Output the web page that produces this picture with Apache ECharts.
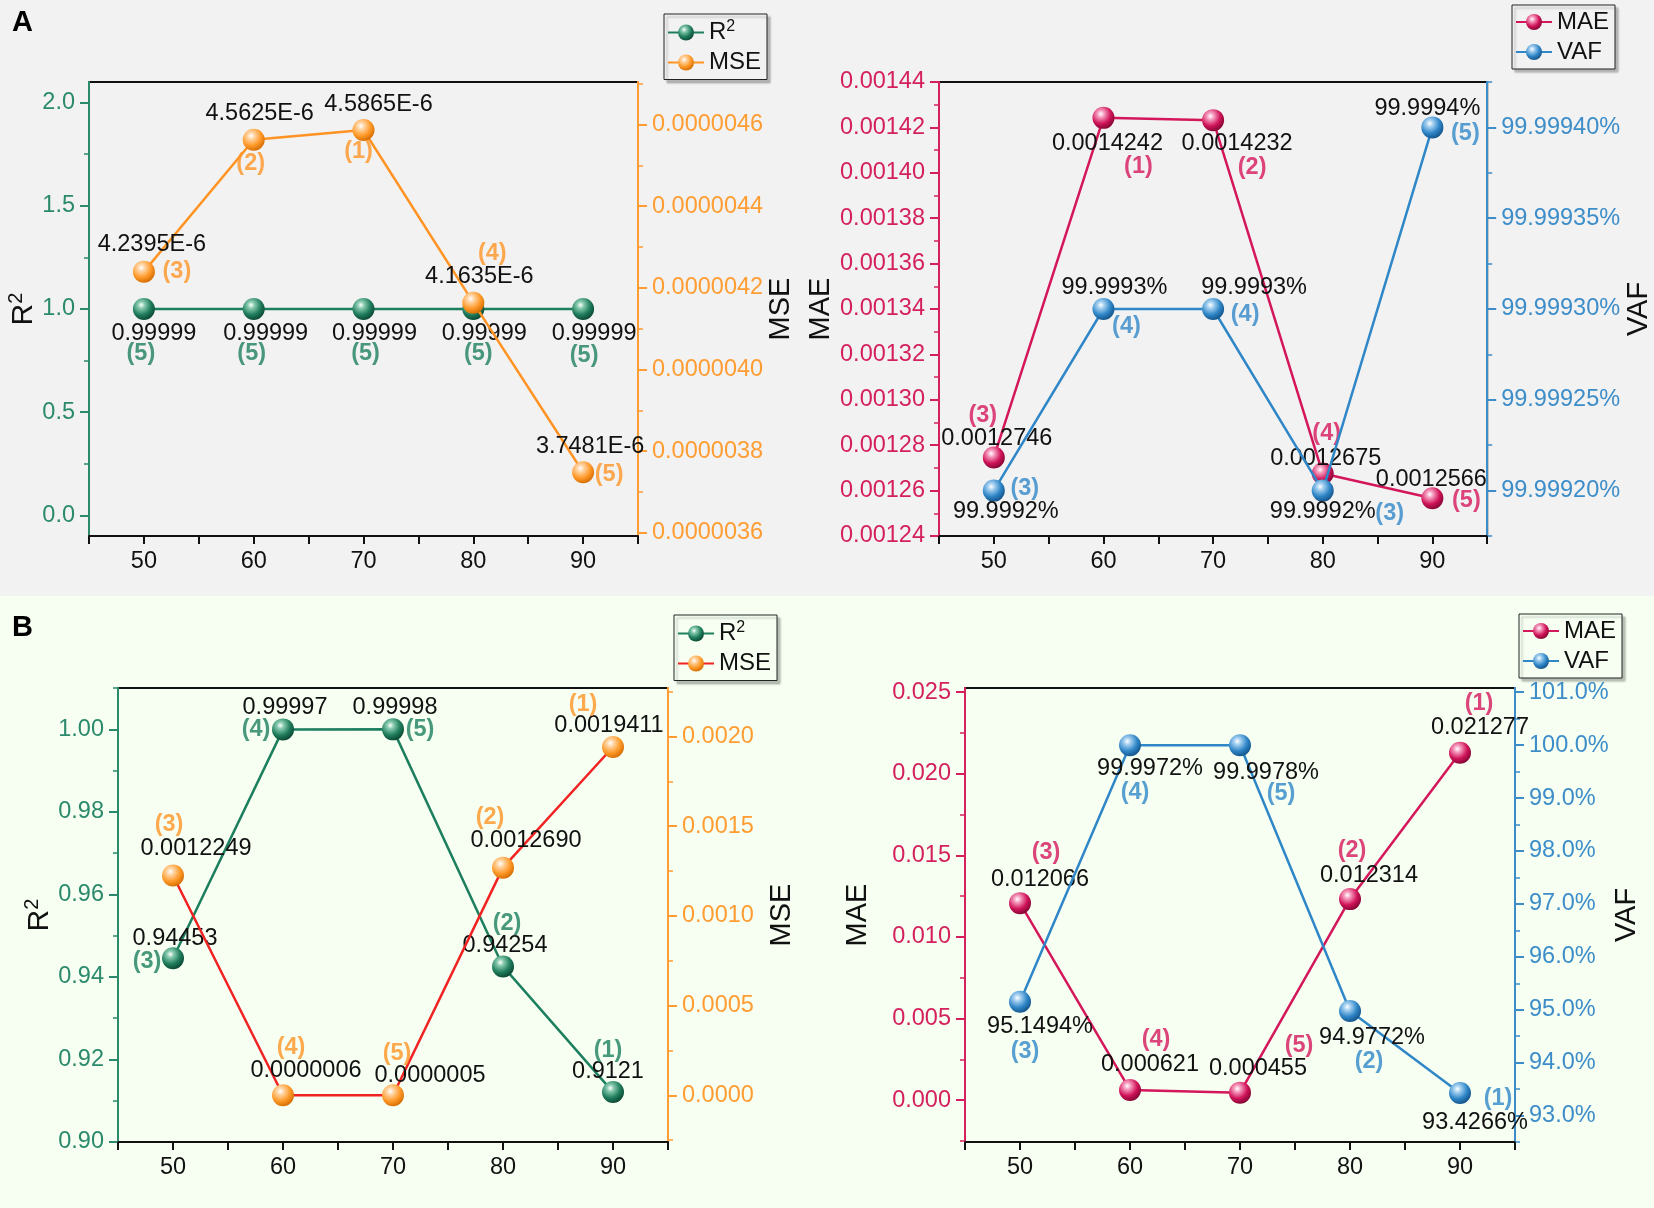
<!DOCTYPE html>
<html><head><meta charset="utf-8">
<script src="https://cdn.jsdelivr.net/npm/echarts@6/dist/echarts.min.js"></script>
<style>
html,body{margin:0;padding:0;}
#c{width:1654px;height:1208px;background:linear-gradient(to bottom,#f2f2f2 0,#f2f2f2 596px,#f6fff2 596px,#f6fff2 100%);}
</style></head><body><div id="c"></div>
<script>
// ---------------- data ----------------
const xValues = [50, 60, 70, 80, 90];

// Panel A
const aR2 = [0.99999, 0.99999, 0.99999, 0.99999, 0.99999];
const aR2Rank = [5, 5, 5, 5, 5];
const aMSE = [4.2395e-6, 4.5625e-6, 4.5865e-6, 4.1635e-6, 3.7481e-6];
const aMSERank = [3, 2, 1, 4, 5];
const aMAE = [0.0012746, 0.0014242, 0.0014232, 0.0012675, 0.0012566];
const aMAERank = [3, 1, 2, 4, 5];
const aVAF = [99.9992, 99.9993, 99.9993, 99.9992, 99.9994];
const aVAFRank = [3, 4, 4, 3, 5];

// Panel B
const bR2 = [0.94453, 0.99997, 0.99998, 0.94254, 0.9121];
const bR2Rank = [3, 4, 5, 2, 1];
const bMSE = [0.0012249, 0.0000006, 0.0000005, 0.0012690, 0.0019411];
const bMSERank = [3, 4, 5, 2, 1];
const bMAE = [0.012066, 0.000621, 0.000455, 0.012314, 0.021277];
const bMAERank = [3, 4, 5, 2, 1];
const bVAF = [95.1494, 99.9972, 99.9978, 94.9772, 93.4266];
const bVAFRank = [3, 4, 5, 2, 1];

// tick values (major / minor)
const aR2Ticks = [0, 0.5, 1.0, 1.5, 2.0];
const aR2Minor = [0.25, 0.75, 1.25, 1.75];
const aMSETicks = [3.6e-6, 3.8e-6, 4.0e-6, 4.2e-6, 4.4e-6, 4.6e-6];
const aMSEMinor = [3.7e-6, 3.9e-6, 4.1e-6, 4.3e-6, 4.5e-6, 4.7e-6];
const aMAETicks = [0.00124, 0.00126, 0.00128, 0.00130, 0.00132, 0.00134, 0.00136, 0.00138, 0.00140, 0.00142, 0.00144];
const aMAEMinor = [0.00125, 0.00127, 0.00129, 0.00131, 0.00133, 0.00135, 0.00137, 0.00139, 0.00141, 0.00143];
const aVAFTicks = [99.9992, 99.99925, 99.9993, 99.99935, 99.9994];
const aVAFMinor = [99.999175, 99.999225, 99.999275, 99.999325, 99.999375, 99.999425];
const bR2Ticks = [0.90, 0.92, 0.94, 0.96, 0.98, 1.00];
const bR2Minor = [0.91, 0.93, 0.95, 0.97, 0.99, 1.01];
const bMSETicks = [0, 0.0005, 0.0010, 0.0015, 0.0020];
const bMSEMinor = [-0.00025, 0.00025, 0.00075, 0.00125, 0.00175, 0.00225];
const bMAETicks = [0, 0.005, 0.010, 0.015, 0.020, 0.025];
const bMAEMinor = [-0.0025, 0.0025, 0.0075, 0.0125, 0.0175, 0.0225];
const bVAFTicks = [93, 94, 95, 96, 97, 98, 99, 100, 101];
const bVAFMinor = [92.5, 93.5, 94.5, 95.5, 96.5, 97.5, 98.5, 99.5, 100.5];

// ---------------- style / layout ----------------
const FONT = '"Liberation Sans", Arial, sans-serif';
const FS = 23.5;
const GREEN = '#1d7f5e', ORANGE = '#ff9424', RED = '#f02222', CRIMSON = '#d4175b', BLUE = '#2f87c8';
const GREEN_AX = '#2b8a6b', ORANGE_AX = '#ff9d33', CRIMSON_AX = '#d4215e', BLUE_AX = '#3d8dc9';

function ball(base, light, dark) {
  return {type: 'radial', x: 0.38, y: 0.32, r: 0.72, colorStops: [
    {offset: 0, color: '#ffffff'}, {offset: 0.22, color: light},
    {offset: 0.62, color: base}, {offset: 1, color: dark}]};
}
const BALL_G = ball('#1f7d5c', '#86c9ae', '#0b4431');
const BALL_O = ball('#ff9a2a', '#ffd4a3', '#d36a00');
const BALL_C = ball('#d0145a', '#f59bbd', '#7e0530');
const BALL_B = ball('#2f86c7', '#a3cff0', '#125086');

const grids = [
  {left: 89, top: 82, width: 549, height: 454},
  {left: 939, top: 82, width: 550, height: 454},
  {left: 118, top: 688, width: 550, height: 454},
  {left: 965, top: 688, width: 550, height: 454}
];

// label offsets [dx, dy] in px relative to marker centre
const OFF = {
  aR2v: [[10,25],[12,25],[11,25],[11,25],[11,25]],
  aR2r: [[-3,45],[-2,45],[2,45],[5,45],[1,47]],
  aMSEv: [[8,-27],[6,-26],[15,-25],[6,-26],[7,-26]],
  aMSEr: [[33,0],[-3,24],[-5,22],[19,-49],[26,2]],
  aMAEv: [[3,-19],[4,26],[24,23],[3,-15],[-1,-19]],
  aMAEr: [[-11,-42],[35,49],[39,47],[4,-40],[34,2]],
  aVAFv: [[12,21],[11,-21],[41,-21],[0,21],[-5,-19]],
  aVAFr: [[31,-2],[23,18],[32,6],[67,23],[33,6]],
  bR2v: [[2,-20],[2,-22],[2,-22],[2,-21],[-5,-21]],
  bR2r: [[-26,3],[-27,0],[27,0],[4,-43],[-5,-42]],
  bMSEv: [[23,-27],[23,-25],[37,-20],[23,-27],[-4,-22]],
  bMSEr: [[-4,-51],[8,-48],[4,-42],[-13,-50],[-30,-43]],
  bMAEv: [[20,-24],[20,-25],[18,-24],[19,-24],[20,-25]],
  bMAEr: [[26,-51],[26,-50],[59,-47],[2,-49],[19,-49]],
  bVAFv: [[20,25],[20,23],[26,27],[22,27],[15,30]],
  bVAFr: [[5,50],[5,47],[41,48],[19,51],[38,6]]
};

const series = [];
function pair(o) {
  series.push({
    type: 'line', name: o.name, xAxisIndex: o.g, yAxisIndex: o.y,
    data: o.values.map((v, i) => ({value: [xValues[i], v], label: {offset: o.vOff[i]}})),
    symbol: 'circle', symbolSize: 22, showSymbol: true,
    lineStyle: {color: o.line, width: 2.5},
    itemStyle: {color: o.ball},
    label: {show: true, position: 'inside', formatter: p => o.fmt(p.value[1]),
      color: '#111', fontSize: FS, fontFamily: FONT},
    z: o.z, silent: true, animation: false
  });
  series.push({
    type: 'scatter', name: o.name + '_rank', xAxisIndex: o.g, yAxisIndex: o.y,
    data: o.values.map((v, i) => ({value: [xValues[i], v], label: {offset: o.rOff[i]}})),
    symbolSize: 1, itemStyle: {color: 'rgba(0,0,0,0)'},
    label: {show: true, position: 'inside', formatter: p => '(' + o.ranks[p.dataIndex] + ')',
      color: o.rankColor, fontSize: FS, fontWeight: 'bold', fontFamily: FONT},
    z: o.z + 1, silent: true, animation: false
  });
}

const fmtExp = v => v.toExponential(4).toUpperCase();
pair({name: 'aR2', g: 0, y: 0, values: aR2, ranks: aR2Rank, fmt: v => String(v), line: GREEN, ball: BALL_G, vOff: OFF.aR2v, rOff: OFF.aR2r, rankColor: GREEN, z: 3});
pair({name: 'aMSE', g: 0, y: 2, values: aMSE, ranks: aMSERank, fmt: fmtExp, line: ORANGE, ball: BALL_O, vOff: OFF.aMSEv, rOff: OFF.aMSEr, rankColor: ORANGE, z: 5});
pair({name: 'aMAE', g: 1, y: 4, values: aMAE, ranks: aMAERank, fmt: v => String(v), line: CRIMSON, ball: BALL_C, vOff: OFF.aMAEv, rOff: OFF.aMAEr, rankColor: CRIMSON, z: 3});
pair({name: 'aVAF', g: 1, y: 6, values: aVAF, ranks: aVAFRank, fmt: v => String(v) + '%', line: BLUE, ball: BALL_B, vOff: OFF.aVAFv, rOff: OFF.aVAFr, rankColor: BLUE, z: 5});
pair({name: 'bR2', g: 2, y: 8, values: bR2, ranks: bR2Rank, fmt: v => String(v), line: GREEN, ball: BALL_G, vOff: OFF.bR2v, rOff: OFF.bR2r, rankColor: GREEN, z: 3});
pair({name: 'bMSE', g: 2, y: 10, values: bMSE, ranks: bMSERank, fmt: v => v.toFixed(7), line: RED, ball: BALL_O, vOff: OFF.bMSEv, rOff: OFF.bMSEr, rankColor: ORANGE, z: 5});
pair({name: 'bMAE', g: 3, y: 12, values: bMAE, ranks: bMAERank, fmt: v => String(v), line: CRIMSON, ball: BALL_C, vOff: OFF.bMAEv, rOff: OFF.bMAEr, rankColor: CRIMSON, z: 3});
pair({name: 'bVAF', g: 3, y: 14, values: bVAF, ranks: bVAFRank, fmt: v => String(v) + '%', line: BLUE, ball: BALL_B, vOff: OFF.bVAFv, rOff: OFF.bVAFr, rankColor: BLUE, z: 5});

// ---------------- axes ----------------
const xAxes = grids.map((g, i) => ({
  type: 'value', gridIndex: i, min: 45, max: 95, interval: 5,
  axisLine: {onZero: false, lineStyle: {color: '#111', width: 2}},
  axisTick: {length: 8, lineStyle: {color: '#111', width: 2}},
  axisLabel: {customValues: xValues, formatter: v => String(v), color: '#111', fontSize: FS, margin: 14, fontFamily: FONT},
  splitLine: {show: false}
}));

const nameRich = {
  b: {fontSize: 30, fontFamily: FONT, color: '#111'},
  sup: {fontSize: 20, padding: [0, 0, 14, 0], fontFamily: FONT, color: '#111'}
};
const yAxes = [];
function yPair(g, pos, min, max, majors, minors, color, fmt, name, gap) {
  const base = {type: 'value', gridIndex: g, position: pos, min: min, max: max,
    splitLine: {show: false}, axisLine: {show: true, onZero: false, lineStyle: {color: color, width: 2}}};
  yAxes.push(Object.assign({}, base, {
    name: name, nameLocation: 'middle', nameGap: gap, nameRotate: 90,
    nameTextStyle: {color: '#111', fontSize: 29, fontFamily: FONT, rich: nameRich},
    axisTick: {show: true, length: 9, lineStyle: {color: color, width: 2}, customValues: majors},
    axisLabel: {customValues: majors, formatter: fmt, color: color, fontSize: FS, margin: 14, fontFamily: FONT}
  }));
  yAxes.push(Object.assign({}, base, {
    axisTick: {show: true, length: 5, lineStyle: {color: color, width: 1.5}, customValues: minors},
    axisLabel: {show: false}
  }));
}
const R2NAME = '{b|R}{sup|2}';
yPair(0, 'left', -0.1, 2.1, aR2Ticks, aR2Minor, GREEN_AX, v => v.toFixed(1), R2NAME, 44);
yPair(0, 'right', 3.592e-6, 4.704e-6, aMSETicks, aMSEMinor, ORANGE_AX, v => v.toFixed(7), 'MSE', 126);
yPair(1, 'left', 0.00124, 0.00144, aMAETicks, aMAEMinor, CRIMSON_AX, v => v.toFixed(5), 'MAE', 104);
yPair(1, 'right', 99.999175, 99.999425, aVAFTicks, aVAFMinor, BLUE_AX, v => v.toFixed(5) + '%', 'VAF', 129);
yPair(2, 'left', 0.90, 1.01, bR2Ticks, bR2Minor, GREEN_AX, v => v.toFixed(2), R2NAME, 60);
yPair(2, 'right', -0.00026, 0.00227, bMSETicks, bMSEMinor, ORANGE_AX, v => v.toFixed(4), 'MSE', 99);
yPair(3, 'left', -0.00257, 0.02525, bMAETicks, bMAEMinor, CRIMSON_AX, v => v.toFixed(3), 'MAE', 93);
yPair(3, 'right', 92.5, 101.08, bVAFTicks, bVAFMinor, BLUE_AX, v => v.toFixed(1) + '%', 'VAF', 91);

// ---------------- legends ----------------
const legendNames = {aR2: '{b|R}{sup|2}', aMSE: 'MSE', aMAE: 'MAE', aVAF: 'VAF', bR2: '{b|R}{sup|2}', bMSE: 'MSE', bMAE: 'MAE', bVAF: 'VAF'};
function legend(names, left, top, bg) {
  return {
    data: names, left: left, top: top, orient: 'vertical',
    itemWidth: 36, itemHeight: 20, itemGap: 6, padding: [5, 6, 5, 3],
    borderColor: '#222', borderWidth: 1, backgroundColor: bg,
    shadowColor: 'rgba(0,0,0,0.25)', shadowOffsetX: 3, shadowOffsetY: 3, shadowBlur: 2,
    formatter: n => legendNames[n], selectedMode: false,
    textStyle: {color: '#111', fontSize: 24, fontFamily: FONT,
      rich: {b: {fontSize: 24, color: '#111', fontFamily: FONT},
             sup: {fontSize: 16, padding: [0, 0, 11, 0], color: '#111', fontFamily: FONT}}}
  };
}

const chart = echarts.init(document.getElementById('c'), null, {renderer: 'canvas'});
chart.setOption({
  animation: false,
  backgroundColor: 'transparent',
  grid: grids.map(g => Object.assign({show: true, borderColor: '#111', borderWidth: 2, backgroundColor: 'transparent'}, g)),
  xAxis: xAxes,
  yAxis: yAxes,
  legend: [
    legend(['aR2', 'aMSE'], 664, 14, '#f2f2f2'),
    legend(['aMAE', 'aVAF'], 1512, 5, '#f2f2f2'),
    legend(['bR2', 'bMSE'], 674, 615, '#f6fff2'),
    legend(['bMAE', 'bVAF'], 1519, 614, '#f6fff2')
  ],
  graphic: [
    {type: 'text', left: 12, top: 8, style: {text: 'A', font: 'bold 29px ' + FONT, fill: '#000'}},
    {type: 'text', left: 12, top: 613, style: {text: 'B', font: 'bold 29px ' + FONT, fill: '#000'}}
  ],
  series: series
});
</script></body></html>
